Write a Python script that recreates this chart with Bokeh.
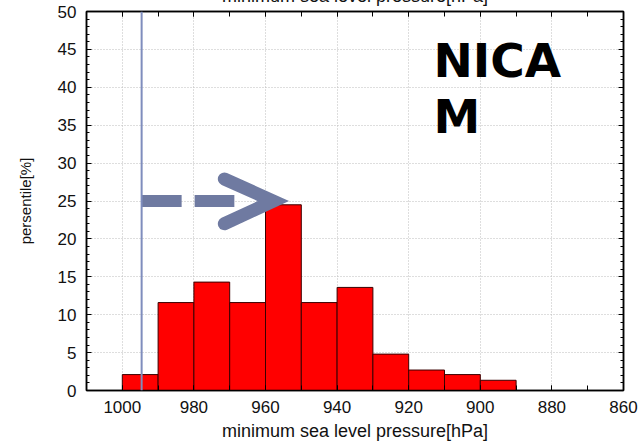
from bokeh.embed import file_html
from bokeh.models import Label, LinearAxis, Range1d, SingleIntervalTicker, Span
from bokeh.plotting import figure
from bokeh.resources import INLINE

# Histogram of minimum sea level pressure (10 hPa bins, high -> low pressure)
bin_upper = [1000, 990, 980, 970, 960, 950, 940, 930, 920, 910, 900]
bin_lower = [990, 980, 970, 960, 950, 940, 930, 920, 910, 900, 890]
percentile = [2.1, 11.6, 14.3, 11.6, 24.5, 11.6, 13.6, 4.8, 2.7, 2.1, 1.35]

x_tick_labels = [1000, 980, 960, 940, 920, 900, 880, 860]
y_tick_labels = [0, 5, 10, 15, 20, 25, 30, 35, 40, 45, 50]

# Reference pressure marked with a vertical line, and the arrow towards the peak bin
reference_pressure = 994.6
arrow_level = 25.0
arrow_shaft = [994.6, 968.7]
arrow_head_x = [971.5, 957.8, 971.5]
arrow_head_y = [27.9, 25.0, 22.0]

model_lines = ["NICA", "M"]
model_line_y = [43.6, 36.2]
x_title = "minimum sea level pressure[hPa]"
y_title = "persentile[%]"

FONT = "Liberation Sans"
TICK_SIZE = "17px"
TITLE_SIZE = "18px"

p = figure(
    width=639, height=476,
    x_range=Range1d(1010, 860), y_range=Range1d(0, 50),
    output_backend="svg", toolbar_location=None,
    min_border_left=86, min_border_right=16, min_border_top=40, min_border_bottom=57,
    x_axis_location=None, y_axis_location=None,
)
# the top of the canvas (upper axis title) runs off the page
p.margin = (-29, 0, 0, 0)
p.background_fill_color = "white"
p.border_fill_color = "white"
p.outline_line_color = "black"
p.outline_line_width = 1.5

xticker = SingleIntervalTicker(interval=20, num_minor_ticks=2)
yticker = SingleIntervalTicker(interval=5, num_minor_ticks=5)


def make_axis(ticker, labels=True, title=None, standoff=0, title_size=TITLE_SIZE):
    ax = LinearAxis(ticker=ticker)
    ax.axis_line_color = "black"
    ax.axis_line_width = 1.5
    ax.major_tick_in = 5
    ax.major_tick_out = 0
    ax.minor_tick_in = 3
    ax.minor_tick_out = 0
    ax.major_tick_line_color = "black"
    ax.minor_tick_line_color = "black"
    ax.major_label_text_font = FONT
    if labels:
        ax.major_label_text_font_size = TICK_SIZE
        ax.major_label_text_color = "#111111"
        ax.major_label_standoff = 10
    else:
        ax.major_label_text_font_size = "0px"
        ax.major_label_text_color = None
        ax.major_label_standoff = 0
    if title:
        ax.axis_label = title
        ax.axis_label_text_font = FONT
        ax.axis_label_text_font_size = title_size
        ax.axis_label_text_font_style = "normal"
        ax.axis_label_text_color = "#111111"
        ax.axis_label_standoff = standoff
    return ax


xaxis_b = make_axis(xticker, title=x_title, standoff=5)
xaxis_b.minor_tick_in = 5
xaxis_t = make_axis(xticker, labels=False, title=x_title, standoff=6)
xaxis_t.minor_tick_in = 5
yaxis_l = make_axis(yticker, title=y_title, standoff=21, title_size="15px")
yaxis_r = make_axis(yticker, labels=False)
p.add_layout(xaxis_b, "below")
p.add_layout(xaxis_t, "above")
p.add_layout(yaxis_l, "left")
p.add_layout(yaxis_r, "right")

p.xgrid.ticker = xticker
p.ygrid.ticker = yticker
for g in (p.xgrid, p.ygrid):
    g.grid_line_color = "#bdbdbd"
    g.grid_line_dash = "1 2"
    g.grid_line_width = 1

p.quad(left=bin_upper, right=bin_lower, bottom=0, top=percentile,
       fill_color="#ff0000", line_color="#3a0000", line_width=1)

# Dashed arrow shaft and chevron head
p.line(x=arrow_shaft, y=[arrow_level, arrow_level], line_color="#6f7aa1",
       line_width=12, line_dash="40 13", line_cap="butt")
p.line(x=arrow_head_x, y=arrow_head_y, line_color="#6f7aa1", line_width=13,
       line_cap="round", line_join="miter")

# Vertical reference line
p.add_layout(Span(location=reference_pressure, dimension="height",
                  line_color="#7f8dbd", line_width=2))

# Model name
for line, ybase in zip(model_lines, model_line_y):
    p.add_layout(Label(x=913.1, y=ybase, text=line, text_align="left",
                       text_baseline="alphabetic", text_font="DejaVu Sans",
                       text_font_size="47px", text_font_style="bold",
                       text_color="black"))

open("out.html", "w").write(file_html(p, INLINE))
